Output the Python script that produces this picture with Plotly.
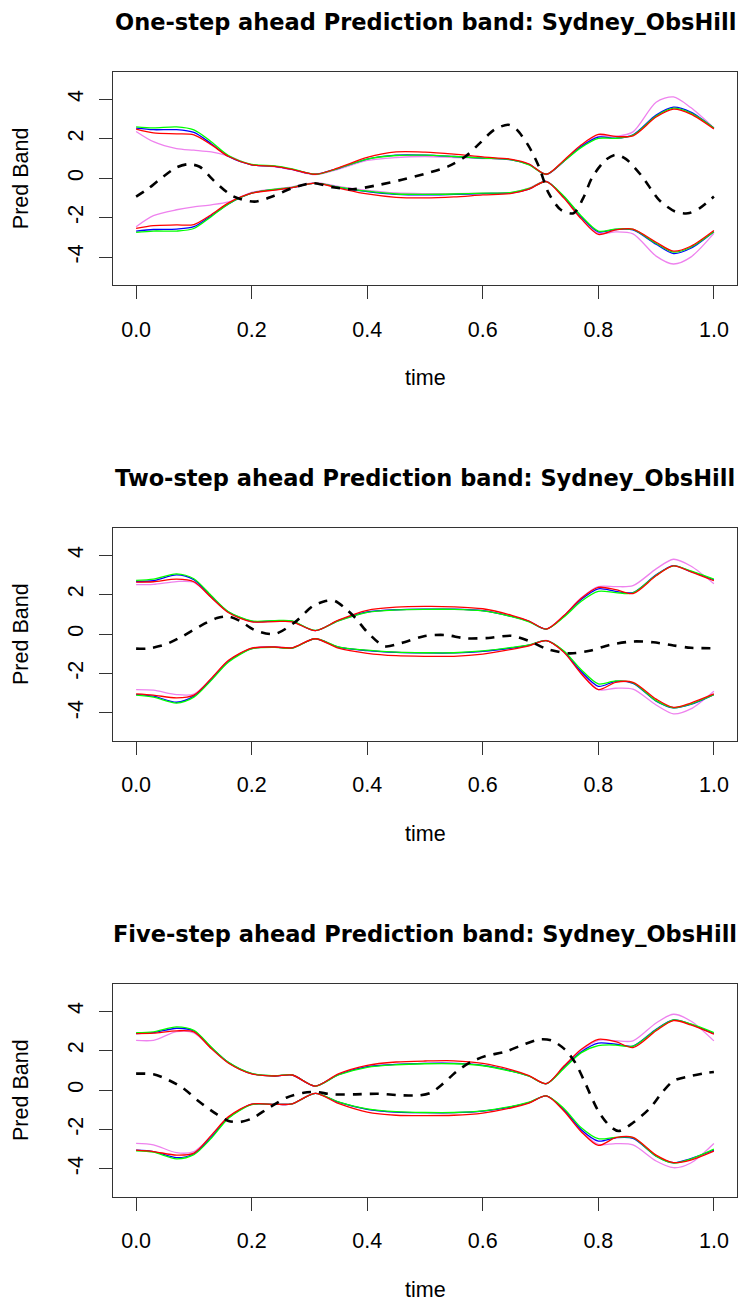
import plotly.graph_objects as go

# Evaluation grid for the band curves
t_band = [0.00, 0.03, 0.07, 0.10, 0.13, 0.16, 0.20, 0.24, 0.27, 0.31, 0.35, 0.40, 0.45, 0.50,
          0.55, 0.60, 0.65, 0.68, 0.71, 0.74, 0.77, 0.80, 0.83, 0.86, 0.90, 0.93, 0.96, 1.00]

# ---- One-step ahead ----
p1_blue_up = [2.54, 2.46, 2.46, 2.32, 1.75, 1.10, 0.68, 0.60, 0.45, 0.20, 0.50, 0.97, 1.17, 1.17,
              1.10, 1.02, 0.93, 0.70, 0.20, 0.85, 1.60, 2.08, 2.03, 2.20, 3.20, 3.60, 3.35, 2.54]
p1_red_up = [2.49, 2.30, 2.25, 2.20, 1.70, 1.10, 0.68, 0.60, 0.45, 0.20, 0.52, 1.05, 1.33, 1.32,
             1.22, 1.08, 0.96, 0.72, 0.20, 0.90, 1.68, 2.22, 2.12, 2.15, 3.10, 3.50, 3.25, 2.50]
p1_green_up = [2.60, 2.55, 2.60, 2.45, 1.85, 1.15, 0.70, 0.62, 0.47, 0.20, 0.50, 0.97, 1.15, 1.17,
               1.10, 1.02, 0.93, 0.68, 0.20, 0.85, 1.55, 2.02, 2.02, 2.18, 3.15, 3.55, 3.30, 2.55]
p1_violet_up = [2.37, 1.85, 1.50, 1.42, 1.33, 1.12, 0.68, 0.58, 0.43, 0.18, 0.45, 0.90, 1.05, 1.10,
                1.05, 1.00, 0.93, 0.70, 0.18, 0.85, 1.62, 2.12, 2.12, 2.35, 3.85, 4.12, 3.58, 2.55]
p1_blue_lo = [-2.68, -2.60, -2.58, -2.46, -1.90, -1.30, -0.76, -0.58, -0.48, -0.25, -0.46, -0.68,
              -0.82, -0.85, -0.82, -0.78, -0.74, -0.55, -0.17, -0.93, -1.95, -2.72, -2.60, -2.62,
              -3.35, -3.82, -3.55, -2.71]
p1_red_lo = [-2.54, -2.40, -2.37, -2.35, -1.85, -1.25, -0.76, -0.60, -0.48, -0.25, -0.50, -0.80,
             -0.97, -1.00, -0.95, -0.85, -0.77, -0.55, -0.17, -1.00, -2.05, -2.85, -2.62, -2.58,
             -3.25, -3.70, -3.45, -2.65]
p1_green_lo = [-2.75, -2.68, -2.68, -2.55, -1.95, -1.30, -0.76, -0.56, -0.46, -0.25, -0.45, -0.66,
               -0.80, -0.82, -0.80, -0.76, -0.72, -0.52, -0.17, -0.90, -1.90, -2.68, -2.58, -2.60,
               -3.30, -3.75, -3.50, -2.72]
p1_violet_lo = [-2.46, -1.90, -1.60, -1.45, -1.35, -1.20, -0.72, -0.55, -0.44, -0.22, -0.42, -0.62,
                -0.75, -0.78, -0.78, -0.76, -0.72, -0.50, -0.15, -0.95, -2.00, -2.80, -2.72, -2.82,
                -3.95, -4.35, -4.00, -2.80]
p1_t_obs = [0.00, 0.02, 0.04, 0.07, 0.09, 0.11, 0.135, 0.167, 0.205, 0.238, 0.27, 0.305, 0.34,
            0.375, 0.42, 0.46, 0.50, 0.54, 0.57, 0.595, 0.62, 0.644, 0.658, 0.68, 0.697, 0.714,
            0.735, 0.757, 0.774, 0.79, 0.813, 0.83, 0.848, 0.876, 0.905, 0.933, 0.955, 0.975, 1.00]
p1_obs = [-0.93, -0.55, -0.08, 0.55, 0.71, 0.58, -0.14, -0.90, -1.19, -0.90, -0.51, -0.25, -0.46,
          -0.56, -0.34, -0.08, 0.22, 0.60, 1.10, 1.78, 2.46, 2.71, 2.49, 1.60, 0.60, -0.76,
          -1.60, -1.78, -1.00, 0.08, 0.93, 1.19, 0.97, 0.08, -1.10, -1.69, -1.78, -1.53, -0.93]

# ---- Two-step ahead ----
p2_blue_up = [2.66, 2.70, 3.00, 2.75, 1.90, 1.11, 0.64, 0.66, 0.64, 0.17, 0.68, 1.12, 1.23, 1.26,
              1.26, 1.18, 0.89, 0.64, 0.25, 0.89, 1.74, 2.29, 2.16, 2.10, 3.00, 3.47, 3.17, 2.75]
p2_red_up = [2.63, 2.65, 2.78, 2.65, 1.85, 1.08, 0.62, 0.63, 0.62, 0.17, 0.70, 1.20, 1.36, 1.40,
             1.38, 1.28, 0.95, 0.66, 0.25, 0.92, 1.80, 2.36, 2.25, 2.05, 2.95, 3.45, 3.15, 2.70]
p2_green_up = [2.72, 2.78, 3.05, 2.80, 1.95, 1.13, 0.66, 0.68, 0.66, 0.18, 0.66, 1.10, 1.22, 1.25,
               1.25, 1.17, 0.88, 0.62, 0.25, 0.85, 1.65, 2.16, 2.10, 2.08, 2.98, 3.45, 3.20, 2.78]
p2_violet_up = [2.50, 2.52, 2.66, 2.62, 1.85, 1.10, 0.64, 0.66, 0.64, 0.17, 0.66, 1.10, 1.23, 1.25,
                1.25, 1.18, 0.90, 0.64, 0.25, 0.92, 1.82, 2.40, 2.40, 2.45, 3.30, 3.79, 3.45, 2.55]
p2_blue_lo = [-3.07, -3.15, -3.46, -3.15, -2.31, -1.38, -0.74, -0.67, -0.71, -0.24, -0.67, -0.84,
              -0.93, -0.96, -0.96, -0.88, -0.71, -0.57, -0.34, -0.88, -1.89, -2.65, -2.40, -2.50,
              -3.40, -3.74, -3.57, -3.07]
p2_red_lo = [-3.04, -3.10, -3.24, -3.10, -2.25, -1.33, -0.72, -0.66, -0.70, -0.24, -0.72, -0.98,
             -1.10, -1.13, -1.13, -1.02, -0.78, -0.60, -0.34, -0.92, -2.00, -2.82, -2.45, -2.45,
             -3.30, -3.72, -3.50, -3.04]
p2_green_lo = [-3.10, -3.20, -3.50, -3.20, -2.35, -1.42, -0.76, -0.68, -0.72, -0.24, -0.65, -0.82,
               -0.92, -0.95, -0.95, -0.86, -0.68, -0.55, -0.34, -0.85, -1.80, -2.53, -2.38, -2.48,
               -3.38, -3.74, -3.55, -3.08]
p2_violet_lo = [-2.82, -2.85, -3.07, -3.05, -2.28, -1.36, -0.73, -0.66, -0.70, -0.23, -0.66, -0.83,
                -0.92, -0.95, -0.95, -0.88, -0.70, -0.56, -0.33, -0.90, -1.95, -2.82, -2.75, -2.80,
                -3.60, -4.05, -3.80, -2.90]
p2_t_obs = [0.00, 0.02, 0.05, 0.08, 0.11, 0.14, 0.16, 0.18, 0.205, 0.24, 0.275, 0.305, 0.325,
            0.342, 0.36, 0.38, 0.40, 0.43, 0.46, 0.50, 0.535, 0.57, 0.61, 0.65, 0.68, 0.71,
            0.75, 0.785, 0.82, 0.86, 0.895, 0.93, 0.96, 1.00]
p2_obs = [-0.74, -0.74, -0.54, -0.12, 0.39, 0.81, 0.89, 0.66, 0.20, 0.00, 0.60, 1.40, 1.65, 1.70,
          1.35, 0.80, 0.10, -0.62, -0.45, -0.10, -0.05, -0.22, -0.20, -0.09, -0.35, -0.75,
          -0.98, -0.85, -0.55, -0.38, -0.42, -0.58, -0.70, -0.72]

# ---- Five-step ahead ----
p3_blue_up = [2.86, 2.91, 3.13, 2.99, 2.15, 1.39, 0.83, 0.71, 0.76, 0.20, 0.78, 1.18, 1.30, 1.35,
              1.35, 1.25, 0.96, 0.71, 0.32, 1.13, 1.93, 2.38, 2.32, 2.23, 3.08, 3.55, 3.33, 2.86]
p3_red_up = [2.86, 2.88, 3.00, 2.95, 2.10, 1.36, 0.82, 0.71, 0.76, 0.20, 0.82, 1.25, 1.42, 1.47,
             1.48, 1.35, 1.02, 0.73, 0.32, 1.20, 2.05, 2.57, 2.45, 2.15, 3.00, 3.52, 3.30, 2.83]
p3_green_up = [2.91, 2.95, 3.20, 3.02, 2.18, 1.40, 0.84, 0.72, 0.77, 0.20, 0.76, 1.15, 1.28, 1.33,
               1.33, 1.23, 0.94, 0.70, 0.32, 1.08, 1.88, 2.25, 2.28, 2.22, 3.05, 3.55, 3.35, 2.91]
p3_violet_up = [2.52, 2.52, 2.96, 2.90, 2.12, 1.38, 0.83, 0.71, 0.76, 0.20, 0.78, 1.18, 1.30, 1.35,
                1.35, 1.25, 0.96, 0.71, 0.32, 1.15, 2.00, 2.52, 2.50, 2.49, 3.40, 3.84, 3.50, 2.49]
p3_blue_lo = [-3.05, -3.12, -3.43, -3.23, -2.40, -1.40, -0.73, -0.73, -0.70, -0.17, -0.62, -0.98,
              -1.12, -1.15, -1.15, -1.07, -0.85, -0.64, -0.30, -0.98, -2.00, -2.59, -2.42, -2.45,
              -3.35, -3.69, -3.48, -3.05]
p3_red_lo = [-3.05, -3.12, -3.30, -3.20, -2.30, -1.35, -0.72, -0.73, -0.70, -0.17, -0.68, -1.12,
             -1.28, -1.30, -1.28, -1.17, -0.90, -0.66, -0.30, -1.05, -2.10, -2.81, -2.42, -2.40,
             -3.30, -3.68, -3.55, -3.10]
p3_green_lo = [-3.08, -3.15, -3.49, -3.28, -2.45, -1.43, -0.74, -0.73, -0.70, -0.17, -0.60, -0.96,
               -1.10, -1.14, -1.14, -1.06, -0.83, -0.62, -0.30, -0.92, -1.90, -2.47, -2.40, -2.42,
               -3.35, -3.70, -3.50, -3.00]
p3_violet_lo = [-2.71, -2.78, -3.18, -3.12, -2.35, -1.38, -0.72, -0.72, -0.69, -0.17, -0.62, -0.98,
                -1.12, -1.15, -1.15, -1.07, -0.85, -0.64, -0.30, -1.00, -2.05, -2.76, -2.72, -2.78,
                -3.60, -3.94, -3.70, -2.71]
p3_t_obs = [0.00, 0.03, 0.05, 0.08, 0.11, 0.14, 0.16, 0.18, 0.20, 0.23, 0.26, 0.29, 0.31, 0.34,
            0.38, 0.42, 0.46, 0.49, 0.51, 0.53, 0.555, 0.58, 0.605, 0.64, 0.67, 0.70, 0.72, 0.742,
            0.76, 0.775, 0.80, 0.82, 0.835, 0.86, 0.89, 0.91, 0.93, 0.96, 0.99, 1.00]
p3_obs = [0.83, 0.80, 0.59, 0.12, -0.61, -1.24, -1.57, -1.62, -1.45, -0.90, -0.39, -0.14, -0.10,
          -0.22, -0.22, -0.19, -0.27, -0.27, -0.14, 0.29, 0.95, 1.43, 1.72, 1.95, 2.30, 2.57, 2.50,
          2.06, 1.39, 0.50, -1.07, -1.83, -2.08, -1.66, -0.90, -0.14, 0.46, 0.71, 0.88, 0.91]

titles = ["One-step ahead Prediction band: Sydney_ObsHill",
          "Two-step ahead Prediction band: Sydney_ObsHill",
          "Five-step ahead Prediction band: Sydney_ObsHill"]
x_ticks = [0.0, 0.2, 0.4, 0.6, 0.8, 1.0]
x_tick_text = ["0.0", "0.2", "0.4", "0.6", "0.8", "1.0"]
y_ticks = [-4, -2, 0, 2, 4]
y_tick_text = ["-4", "-2", "0", "2", "4"]

panels = [
    dict(up=[p1_violet_up, p1_blue_up, p1_green_up, p1_red_up],
         lo=[p1_violet_lo, p1_blue_lo, p1_green_lo, p1_red_lo], t_obs=p1_t_obs, obs=p1_obs),
    dict(up=[p2_violet_up, p2_blue_up, p2_green_up, p2_red_up],
         lo=[p2_violet_lo, p2_blue_lo, p2_green_lo, p2_red_lo], t_obs=p2_t_obs, obs=p2_obs),
    dict(up=[p3_violet_up, p3_blue_up, p3_green_up, p3_red_up],
         lo=[p3_violet_lo, p3_blue_lo, p3_green_lo, p3_red_lo], t_obs=p3_t_obs, obs=p3_obs),
]
band_colors = ["#EE82EE", "#0000FF", "#00FF00", "#FF0000"]

W, H = 743, 1304
box_left, box_right = 113, 737
box_tops = [71.7, 527.5, 983.5]
box_h = 213.0
xc = (box_left + box_right) / 2

AXIS_FONT = dict(family="Liberation Sans, Arial, sans-serif", size=21.5, color="#000000")
TITLE_FONT = dict(family="DejaVu Sans, sans-serif", size=22.5, color="#000000", weight="bold")

fig = go.Figure()
annotations = []
for i, p in enumerate(panels):
    xa = "x" if i == 0 else f"x{i + 1}"
    ya = "y" if i == 0 else f"y{i + 1}"
    for series in (p["up"], p["lo"]):
        for col, vals in zip(band_colors, series):
            fig.add_trace(go.Scatter(x=t_band, y=vals, mode="lines", xaxis=xa, yaxis=ya,
                                     line=dict(color=col, width=1.3, shape="spline", smoothing=0.8),
                                     showlegend=False, hoverinfo="skip"))
    fig.add_trace(go.Scatter(x=p["t_obs"], y=p["obs"], mode="lines", xaxis=xa, yaxis=ya,
                             line=dict(color="#000000", width=2.6, dash="9px,8px",
                                       shape="spline", smoothing=0.8),
                             showlegend=False, hoverinfo="skip"))

    top = box_tops[i]
    bottom = top + box_h
    xkey = "xaxis" if i == 0 else f"xaxis{i + 1}"
    ykey = "yaxis" if i == 0 else f"yaxis{i + 1}"
    fig.update_layout({
        xkey: dict(domain=[box_left / W, box_right / W], anchor=ya, range=[-0.04, 1.04],
                   tickvals=x_ticks, ticktext=x_tick_text, ticks="outside", ticklen=13,
                   tickwidth=1, tickcolor="#333333", showline=True, mirror=True,
                   linecolor="#333333", linewidth=1, showgrid=False, zeroline=False,
                   tickfont=AXIS_FONT, ticklabelstandoff=12, fixedrange=True),
        ykey: dict(domain=[1 - bottom / H, 1 - top / H], anchor=xa, range=[-5.4, 5.4],
                   tickvals=y_ticks, ticktext=y_tick_text, ticks="outside", ticklen=13,
                   tickwidth=1, tickcolor="#333333", showline=True, mirror=True,
                   linecolor="#333333", linewidth=1, showgrid=False, zeroline=False,
                   tickangle=-90, tickfont=AXIS_FONT, ticklabelstandoff=7, fixedrange=True),
    })

    annotations.append(dict(text=titles[i], x=xc / W, y=1 - (top - 50) / H, xref="paper",
                            yref="paper", xanchor="center", yanchor="middle", showarrow=False,
                            font=TITLE_FONT))
    annotations.append(dict(text="time", x=xc / W, y=1 - (bottom + 93) / H, xref="paper",
                            yref="paper", xanchor="center", yanchor="middle", showarrow=False,
                            font=AXIS_FONT))
    annotations.append(dict(text="Pred Band", x=21 / W, y=1 - (top + box_h / 2) / H,
                            xref="paper", yref="paper", xanchor="center", yanchor="middle",
                            textangle=-90, showarrow=False, font=AXIS_FONT))

fig.update_layout(width=W, height=H, autosize=False, margin=dict(l=0, r=0, t=0, b=0),
                  paper_bgcolor="#FFFFFF", plot_bgcolor="#FFFFFF", annotations=annotations)

fig.write_html("out.html", config={"displayModeBar": False})
